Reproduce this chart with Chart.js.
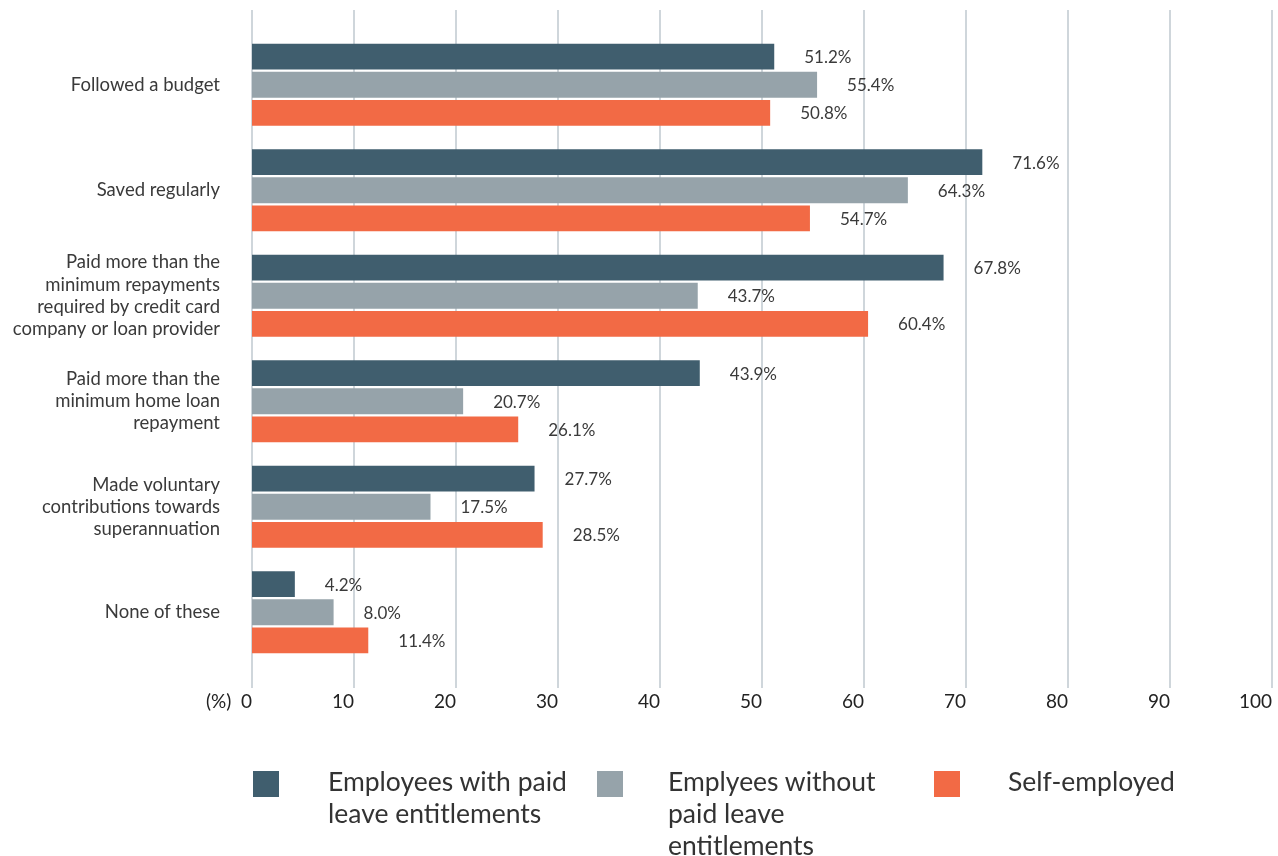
<!DOCTYPE html>
<html lang="en">
<head>
    <meta charset="UTF-8">
    <title>Money habits by employment type</title>
    <script src="https://cdn.jsdelivr.net/npm/chart.js"></script>
    <style>
        body { margin: 0; background: #fff; font-family: Lato, sans-serif; }
        .wrap { position: relative; width: 1278px; height: 856px; }
        canvas { position: absolute; left: 0; top: 0; }
        .legend-item { position: absolute; top: 768px; }
        .legend-box { position: absolute; top: 3px; width: 26px; height: 26px; }
        .legend-text { position: absolute; top: -3px; font-size: 26.5px; line-height: 32px; color: #333; width: 290px; }
    </style>
</head>
<body>
    <div class="wrap">
        <canvas id="habitsChart" width="1278" height="856"></canvas>
        <div id="legend"></div>
    </div>
    <script>
        const categories = [
            ['Followed a budget'],
            ['Saved regularly'],
            ['Paid more than the', 'minimum repayments', 'required by credit card', 'company or loan provider'],
            ['Paid more than the', 'minimum home loan', 'repayment'],
            ['Made voluntary', 'contributions towards', 'superannuation'],
            ['None of these']
        ];
        const seriesNames = [
            'Employees with paid leave entitlements',
            'Emplyees without paid leave entitlements',
            'Self-employed'
        ];
        const withLeave = [51.2, 71.6, 67.8, 43.9, 27.7, 4.2];
        const withoutLeave = [55.4, 64.3, 43.7, 20.7, 17.5, 8.0];
        const selfEmployed = [50.8, 54.7, 60.4, 26.1, 28.5, 11.4];
        const xTicks = [0, 10, 20, 30, 40, 50, 60, 70, 80, 90, 100];

        const colors = ['#405e6e', '#96a3aa', '#f26a45'];
        const legendPos = [[253, 328], [597, 668], [934, 1008]];

        // vertical gridlines run a bit above and below the plot area
        const gridPlugin = {
            id: 'tallGrid',
            beforeDatasetsDraw(chart) {
                const ctx = chart.ctx;
                const xs = chart.scales.x;
                ctx.save();
                ctx.strokeStyle = '#c3ccd2';
                ctx.lineWidth = 1.6;
                xs.ticks.forEach((t, i) => {
                    const x = xs.getPixelForTick(i);
                    ctx.beginPath();
                    ctx.moveTo(x, 10);
                    ctx.lineTo(x, 688);
                    ctx.stroke();
                });
                ctx.restore();
            }
        };

        const valueLabels = {
            id: 'valueLabels',
            afterDatasetsDraw(chart) {
                const ctx = chart.ctx;
                ctx.save();
                ctx.font = '17px Lato';
                ctx.fillStyle = '#3a3a3a';
                ctx.textAlign = 'left';
                ctx.textBaseline = 'middle';
                chart.data.datasets.forEach((ds, i) => {
                    chart.getDatasetMeta(i).data.forEach((bar, j) => {
                        ctx.fillText(ds.data[j].toFixed(1) + '%', bar.x + 30, bar.y + 1);
                    });
                });
                ctx.restore();
            }
        };

        const ctx = document.getElementById('habitsChart').getContext('2d');
        const chart = new Chart(ctx, {
            type: 'bar',
            data: {
                labels: categories,
                datasets: [
                    { label: seriesNames[0], data: withLeave, backgroundColor: colors[0] },
                    { label: seriesNames[1], data: withoutLeave, backgroundColor: colors[1] },
                    { label: seriesNames[2], data: selfEmployed, backgroundColor: colors[2] }
                ]
            },
            options: {
                indexAxis: 'y',
                responsive: false,
                animation: false,
                categoryPercentage: 0.8,
                barPercentage: 0.92,
                layout: { padding: { top: 32, right: 6, bottom: 0, left: 0 } },
                plugins: {
                    legend: { display: false },
                    tooltip: { enabled: false }
                },
                scales: {
                    x: {
                        min: 0,
                        max: 100,
                        afterBuildTicks: (s) => { s.ticks = xTicks.map(v => ({ value: v })); },
                        afterFit: (s) => {
                            s.paddingLeft = 0;
                            s.paddingRight = 0;
                            s.height = 191;
                        },
                        grid: { display: false, drawTicks: false },
                        border: { display: false },
                        ticks: {
                            align: 'end',
                            padding: 25,
                            color: '#222',
                            font: { family: 'Lato', size: 19 },
                            callback: (v) => v === 0 ? '(%)  0' : v
                        }
                    },
                    y: {
                        afterFit: (s) => {
                            s.width = 252;
                            s.paddingTop = 0;
                            s.paddingBottom = 0;
                        },
                        grid: { display: false, drawTicks: false },
                        border: { display: false },
                        ticks: {
                            padding: 32,
                            color: '#3a3a3a',
                            font: { family: 'Lato', size: 18.5, lineHeight: 1.2 }
                        }
                    }
                }
            },
            plugins: [gridPlugin, valueLabels]
        });

        // legend drawn as html so the names can wrap
        const legend = document.getElementById('legend');
        const legendText = [
            'Employees with paid<br>leave entitlements',
            'Emplyees without<br>paid leave<br>entitlements',
            'Self-employed'
        ];
        chart.data.datasets.forEach((ds, i) => {
            const item = document.createElement('div');
            item.className = 'legend-item';
            item.innerHTML = '<div class="legend-box" style="left:' + legendPos[i][0] + 'px;background:' + ds.backgroundColor + '"></div>' +
                '<div class="legend-text" style="left:' + legendPos[i][1] + 'px">' + legendText[i] + '</div>';
            legend.appendChild(item);
        });
    </script>
</body>
</html>
